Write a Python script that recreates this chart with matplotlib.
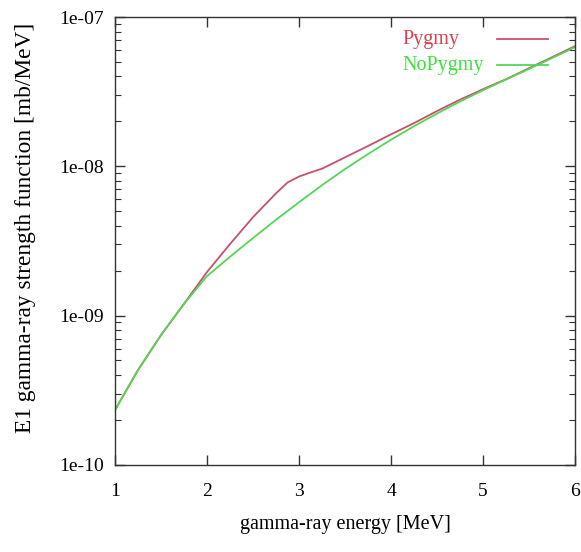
import numpy as np
import matplotlib.pyplot as plt

plt.rcParams['font.family'] = ['Liberation Serif', 'DejaVu Serif']

# gamma-ray energy grid [MeV]
energy = [1.0, 1.25, 1.5, 1.75, 2.0, 2.25, 2.5, 2.75, 2.875, 3.0, 3.125,
          3.25, 3.5, 3.75, 4.0, 4.25, 4.5, 4.75, 5.0, 5.25, 5.5, 5.75, 6.0]

# E1 strength function [mb/MeV]
pygmy = [2.33e-10, 4.32e-10, 7.41e-10, 1.2e-9, 1.96e-9, 3.02e-9, 4.57e-9,
         6.6e-9, 7.8e-9, 8.55e-9, 9.1e-9, 9.65e-9, 1.15e-8, 1.37e-8,
         1.64e-8, 1.95e-8, 2.35e-8, 2.8e-8, 3.29e-8, 3.84e-8, 4.55e-8,
         5.39e-8, 6.4e-8]
nopygmy = [2.33e-10, 4.32e-10, 7.41e-10, 1.2e-9, 1.84e-9, 2.48e-9, 3.31e-9,
           4.39e-9, 5.02e-9, 5.75e-9, 6.56e-9, 7.48e-9, 9.6e-9, 1.21e-8,
           1.51e-8, 1.86e-8, 2.26e-8, 2.72e-8, 3.24e-8, 3.82e-8, 4.5e-8,
           5.32e-8, 6.3e-8]

labels = ['Pygmy', 'NoPygmy']
text_colors = ['#d8404f', '#3ee03e']
line_colors = ['#c8506a', '#55d555']

fig = plt.figure(figsize=(5.81, 5.52), dpi=100)
ax = fig.add_axes([0.198, 0.158, 0.792, 0.811])

ax.plot(energy, pygmy, color=line_colors[0], lw=1.3)
ax.plot(energy, nopygmy, color=line_colors[1], lw=1.3)

ax.set_yscale('log')
ax.set_xlim(1, 6)
ax.set_ylim(1e-10, 1e-7)
ax.set_xticks([1, 2, 3, 4, 5, 6])
ax.set_xticklabels(['1', '2', '3', '4', '5', '6'])
ax.set_yticks([1e-10, 1e-9, 1e-8, 1e-7])
ax.set_yticklabels(['1e-10', '1e-09', '1e-08', '1e-07'])

ax.tick_params(which='both', direction='in', top=True, right=True,
               labelsize=14, color='#333333')
ax.tick_params(which='major', length=7, width=1)
ax.tick_params(which='minor', length=4, width=0.8)
ax.tick_params(axis='x', pad=13)
ax.tick_params(axis='y', pad=8)
for s in ax.spines.values():
    s.set_linewidth(1.0)
    s.set_color('#333333')

ax.set_xlabel('gamma-ray energy [MeV]', fontsize=14.5, labelpad=11)
ax.set_ylabel('E1 gamma-ray strength function [mb/MeV]', fontsize=16.8)
ax.yaxis.set_label_coords(-0.172, 0.53)

# gnuplot-style key: left-justified titles, sample line on the right
for i, (lab, tc, lc) in enumerate(zip(labels, text_colors, line_colors)):
    yk = 0.951 - i * 0.058
    ax.text(0.624, yk, lab, color=tc, fontsize=14.5, va='center',
            ha='left', transform=ax.transAxes)
    ax.plot([0.83, 0.941], [yk, yk], color=lc, lw=1.3,
            transform=ax.transAxes)

fig.savefig('out.png', dpi=100)
